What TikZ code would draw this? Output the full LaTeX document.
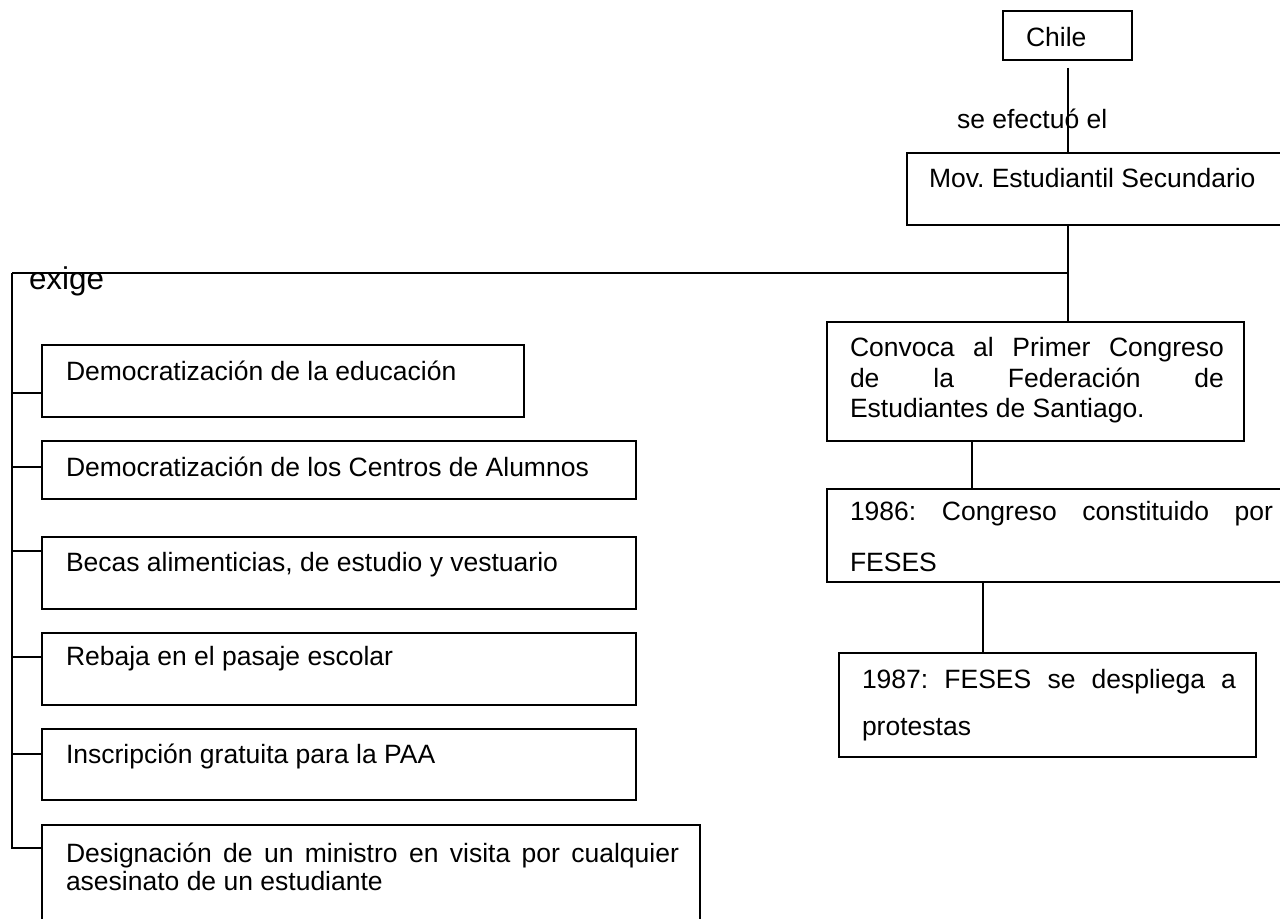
\documentclass[tikz,border=0pt]{standalone}
\usepackage{fontspec}
\setmainfont{Liberation Sans}
\usetikzlibrary{fit}
\tolerance=10000
\frenchspacing

\begin{document}
\begin{tikzpicture}[x=0.5pt,y=-0.5pt,line width=1pt,
  box/.style={draw,inner sep=0pt},
  txt/.style={inner sep=0pt,anchor=base west,font=\fontsize{13.25}{15.25}\selectfont},
  jtxt/.style={txt,align=justify}]
\useasboundingbox (0,0) rectangle (1280,919);
\clip (0,0) rectangle (1280,919);

% Top of the chart
\node[box,fit={(1003,11) (1132,60)}] (chile) {};
\node[txt] (tchile) at (1025,47) {Chile};
\node[box,fit={(907,153) (1300,225)}] (mov) {};
\node[txt] (tmov) at (928,188) {Mov. Estudiantil Secundario};
\node[txt] (efect) at (956,129) {se efectuó el};
\draw ([yshift=-3.5pt]chile.south) -- (chile.south |- mov.north);

% Right column
\node[box,fit={(827,322) (1244,441)}] (conv) {};
\node[jtxt,text width=187pt] (tconv) at (849,357)
  {Convoca al Primer Congreso\linebreak de la Federación de\linebreak Estudiantes de Santiago.};
\coordinate (split) at (chile.south |- 0,273);
\draw (mov.south -| chile.south) -- (split) -- (conv.north -| chile.south);

\node[box,fit={(827,489) (1300,582)}] (y86) {};
\node[jtxt,text width=211.5pt,font=\fontsize{13.25}{25}\selectfont] (t86) at (849,521)
  {1986: Congreso constituido por\linebreak FESES};
\draw (conv.south -| 972,0) -- (y86.north -| 972,0);

\node[box,fit={(839,653) (1256,757)}] (y87) {};
\node[jtxt,text width=187pt,font=\fontsize{13.25}{23.5}\selectfont] (t87) at (861,688)
  {1987: FESES se despliega a\linebreak protestas};
\draw (y86.south -| 983,0) -- (y87.north -| 983,0);

% Left column: what is demanded
\coordinate (rail) at (12,273);
\draw (split) -- (rail);
\node[txt,font=\fontsize{15.7}{18}\selectfont] (exige) at (28,290) {exige};

\foreach \n/\ytop/\ybot/\xr/\ycon/\ybase/\lab in {
  1/345/417/524/393/381/{Democratización de la educación},
  2/441/499/636/467/477/{Democratización de los Centros de Alumnos},
  3/537/609/636/551/571/{Becas alimenticias, de estudio y vestuario},
  4/633/705/636/657/665/{Rebaja en el pasaje escolar},
  5/729/800/636/754/763/{Inscripción gratuita para la PAA}}
{
  \node[box,fit={(42,\ytop) (\xr,\ybot)}] (d\n) {};
  \node[txt] (td\n) at (65,\ybase) {\lab};
  \draw (rail |- 0,\ycon) -- (d\n.west |- 0,\ycon);
}

\node[box,fit={(42,825) (700,940)}] (d6) {};
\node[jtxt,text width=306.5pt,font=\fontsize{13.25}{14.25}\selectfont] (td6) at (65,862)
  {Designación de un ministro en visita por cualquier\linebreak asesinato de un estudiante};
\draw (rail) -- (rail |- 0,848) -- (d6.west |- 0,848);
\end{tikzpicture}
\end{document}
